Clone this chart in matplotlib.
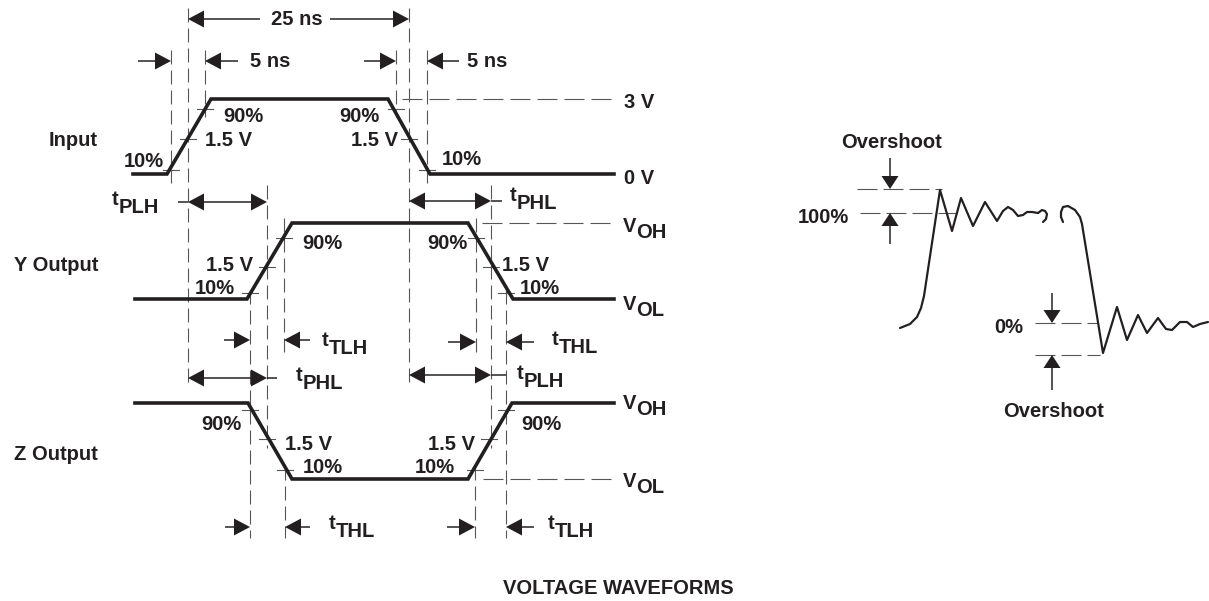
import numpy as np
import matplotlib
matplotlib.use('Agg')
import matplotlib.pyplot as plt

plt.rcParams['font.family'] = ['Liberation Sans', 'DejaVu Sans']
plt.rcParams['font.weight'] = 'bold'
plt.rcParams['lines.scale_dashes'] = False

INK = '#231f20'
GUIDE = '#555555'
FS = 14.5
PX = 0.72  # points per pixel at 100 dpi

# waveforms (diagram units, y grows downwards)
input_x = [133, 167, 211, 388, 430, 614]
input_y = [174, 174, 99, 99, 174, 174]
yout_x = [135, 247, 292, 468, 513, 614]
yout_y = [299, 299, 223, 223, 299, 299]
zout_x = [135, 248, 292, 468, 512, 614]
zout_y = [403, 403, 479, 479, 403, 403]

# overshoot / ringing sketch
ring_rise_x = [900, 910, 917, 921, 924, 940, 952, 961, 973, 985, 997, 1003, 1008, 1013,
               1018, 1023, 1027, 1032, 1038]
ring_rise_y = [328, 324, 317, 308, 296, 190, 231, 198, 226, 202, 221, 211, 207, 210,
               216, 215, 212, 212, 213]
break1_x = [1038, 1042, 1045, 1047, 1046, 1043]
break1_y = [213, 210, 211, 214, 219, 222]
ring_fall_x = [1063, 1061, 1061, 1063, 1068, 1075, 1080, 1082, 1103, 1117, 1127, 1138,
               1147, 1158, 1166, 1172, 1180, 1187, 1193, 1200, 1208]
ring_fall_y = [222, 217, 212, 207, 206, 210, 217, 224, 353, 307, 340, 315, 333, 318,
               329, 330, 322, 322, 327, 324, 322]

# dashed reference lines
vguide_x = [171, 188, 205, 396, 409, 427, 267, 491, 250, 284, 476, 506, 285, 475]
vguide_top = [50, 8, 50, 50, 8, 50, 185, 185, 290, 218, 218, 290, 466, 466]
vguide_bot = [183, 387, 117, 117, 387, 183, 448, 448, 538, 354, 354, 538, 538, 538]
hguide_y = [99, 223, 479]
hguide_x0 = [402, 482, 483]
hguide_x1 = [613, 613, 613]
oguide_y = [189, 213, 323, 355]
oguide_x0 = [857, 860, 1035, 1035]
oguide_x1 = [942, 957, 1097, 1100]

# level-crossing marks
tick_x = [171, 188, 205, 396, 409, 427,
          250, 267, 284, 476, 491, 506,
          250, 267, 285, 475, 489, 506]
tick_y = [170, 139, 109, 109, 139, 170,
          293, 267, 238, 238, 267, 293,
          410, 439, 470, 470, 439, 410]

# double arrows between two lines (y, left, right)
span_y = [19, 202, 201, 378, 375]
span_x0 = [188, 188, 409, 188, 409]
span_x1 = [409, 267, 491, 267, 491]

# inward pointing arrow pairs (y, left tip, right tip, tail)
pinch_y = [61, 61, 340, 342, 527, 527]
pinch_l = [171, 396, 250, 476, 250, 475]
pinch_r = [205, 427, 284, 506, 285, 506]
pinch_tail = [33, 32, 26, 28, 25, 28]

fig = plt.figure(figsize=(12.09, 6.01), dpi=100)
ax = fig.add_axes([0, 0, 1, 1])
ax.set_xlim(0, 1209)
ax.set_ylim(601, 0)
ax.axis('off')


def head(tx, ty, dx, dy, L=16, W=8.5):
    bx, by = tx - dx * L, ty - dy * L
    px, py = -dy, dx
    ax.fill([tx, bx + px * W, bx - px * W], [ty, by + py * W, by - py * W],
            color=INK, lw=0, zorder=4)


def thin(xs, ys):
    ax.plot(xs, ys, color=INK, lw=1.5 * PX, solid_capstyle='butt', zorder=3)


def txt(x, y, s, ha='left', size=FS):
    ax.text(x, y, s, ha=ha, va='baseline', fontsize=size, color=INK,
            fontweight='bold')


def subtxt(x, y, main, sub, shift=8, ha='left'):
    t = ax.text(x, y, main, ha='left', va='baseline', fontsize=FS, color=INK,
                fontweight='bold')
    fig.canvas.draw()
    w = t.get_window_extent().width
    ax.text(x + w, y + shift, sub, ha='left', va='baseline', fontsize=FS,
            color=INK, fontweight='bold')


# guides
for x, a, b in zip(vguide_x, vguide_top, vguide_bot):
    ax.plot([x, x], [a, b], color=GUIDE, lw=1.1 * PX, ls=(0, (14 * PX, 6 * PX)), zorder=1)
for y, a, b in zip(hguide_y, hguide_x0, hguide_x1):
    ax.plot([a, b], [y, y], color=GUIDE, lw=1.1 * PX, ls=(0, (20 * PX, 7 * PX)), zorder=1)
for y, a, b in zip(oguide_y, oguide_x0, oguide_x1):
    ax.plot([a, b], [y, y], color=GUIDE, lw=1.1 * PX, ls=(0, (20 * PX, 6 * PX)), zorder=1)

for x, y in zip(tick_x, tick_y):
    ax.plot([x - 8, x + 8], [y, y], color=GUIDE, lw=1.1 * PX, zorder=2)

# waveforms
for xs, ys in [(input_x, input_y), (yout_x, yout_y), (zout_x, zout_y)]:
    ax.plot(xs, ys, color=INK, lw=3.6 * PX, solid_joinstyle='miter', zorder=5)
for xs, ys in [(ring_rise_x, ring_rise_y), (break1_x, break1_y),
               (ring_fall_x, ring_fall_y)]:
    ax.plot(xs, ys, color=INK, lw=2.2 * PX, solid_joinstyle='round',
            solid_capstyle='round', zorder=5)

# arrows
for y, a, b in zip(span_y, span_x0, span_x1):
    if a == 188 and b == 409:
        thin([a + 10, 260], [y, y])
        thin([330, b - 10], [y, y])
    else:
        thin([a + 10, b - 10], [y, y])
    head(a, y, -1, 0)
    head(b, y, 1, 0)
# extension ticks on the delay arrows
thin([178, 188], [202, 202])
thin([491, 502], [201, 201])
thin([267, 277], [378, 378])
thin([491, 506], [375, 375])

for y, l, r, t in zip(pinch_y, pinch_l, pinch_r, pinch_tail):
    thin([l - t, l - 5], [y, y])
    head(l, y, 1, 0)
    thin([r + 5, r + t], [y, y])
    head(r, y, -1, 0)

# overshoot arrows
thin([890, 890], [158, 182])
head(890, 189, 0, 1, L=13, W=8.5)
thin([890, 890], [220, 244])
head(890, 213, 0, -1, L=13, W=8.5)
thin([1052, 1052], [293, 316])
head(1052, 323, 0, 1, L=13, W=8.5)
thin([1052, 1052], [362, 390])
head(1052, 355, 0, -1, L=13, W=8.5)

# labels
txt(98, 146, 'Input', ha='right')
txt(98, 271, 'Y Output', ha='right')
txt(98, 460, 'Z Output', ha='right')

txt(297, 25, '25 ns', ha='center')
txt(250, 67, '5 ns')
txt(467, 67, '5 ns')
txt(164, 167, '10%', ha='right')
txt(223, 122, '90%')
txt(205, 146, '1.5 V')
txt(380, 122, '90%', ha='right')
txt(398, 146, '1.5 V', ha='right')
txt(442, 165, '10%')
txt(624, 108, '3 V')
txt(624, 184, '0 V')

txt(302, 249, '90%')
txt(253, 271, '1.5 V', ha='right')
txt(235, 294, '10%', ha='right')
txt(468, 249, '90%', ha='right')
txt(502, 271, '1.5 V')
txt(520, 294, '10%')

txt(241, 430, '90%', ha='right')
txt(285, 450, '1.5 V')
txt(303, 473, '10%')
txt(475, 450, '1.5 V', ha='right')
txt(455, 473, '10%', ha='right')
txt(521, 430, '90%')

subtxt(112, 205, 't', 'PLH')
subtxt(510, 201, 't', 'PHL')
subtxt(322, 346, 't', 'TLH')
subtxt(552, 345, 't', 'THL')
subtxt(296, 381, 't', 'PHL')
subtxt(517, 379, 't', 'PLH')
subtxt(329, 529, 't', 'THL')
subtxt(548, 529, 't', 'TLH')

subtxt(623, 232, 'V', 'OH', shift=6)
subtxt(623, 310, 'V', 'OL', shift=6)
subtxt(623, 409, 'V', 'OH', shift=6)
subtxt(623, 487, 'V', 'OL', shift=6)

txt(892, 148, 'Overshoot', ha='center')
txt(849, 223, '100%', ha='right')
txt(1023, 333, '0%', ha='right')
txt(1054, 417, 'Overshoot', ha='center')

txt(503, 594, 'VOLTAGE WAVEFORMS')

fig.savefig('out.png', dpi=100)
